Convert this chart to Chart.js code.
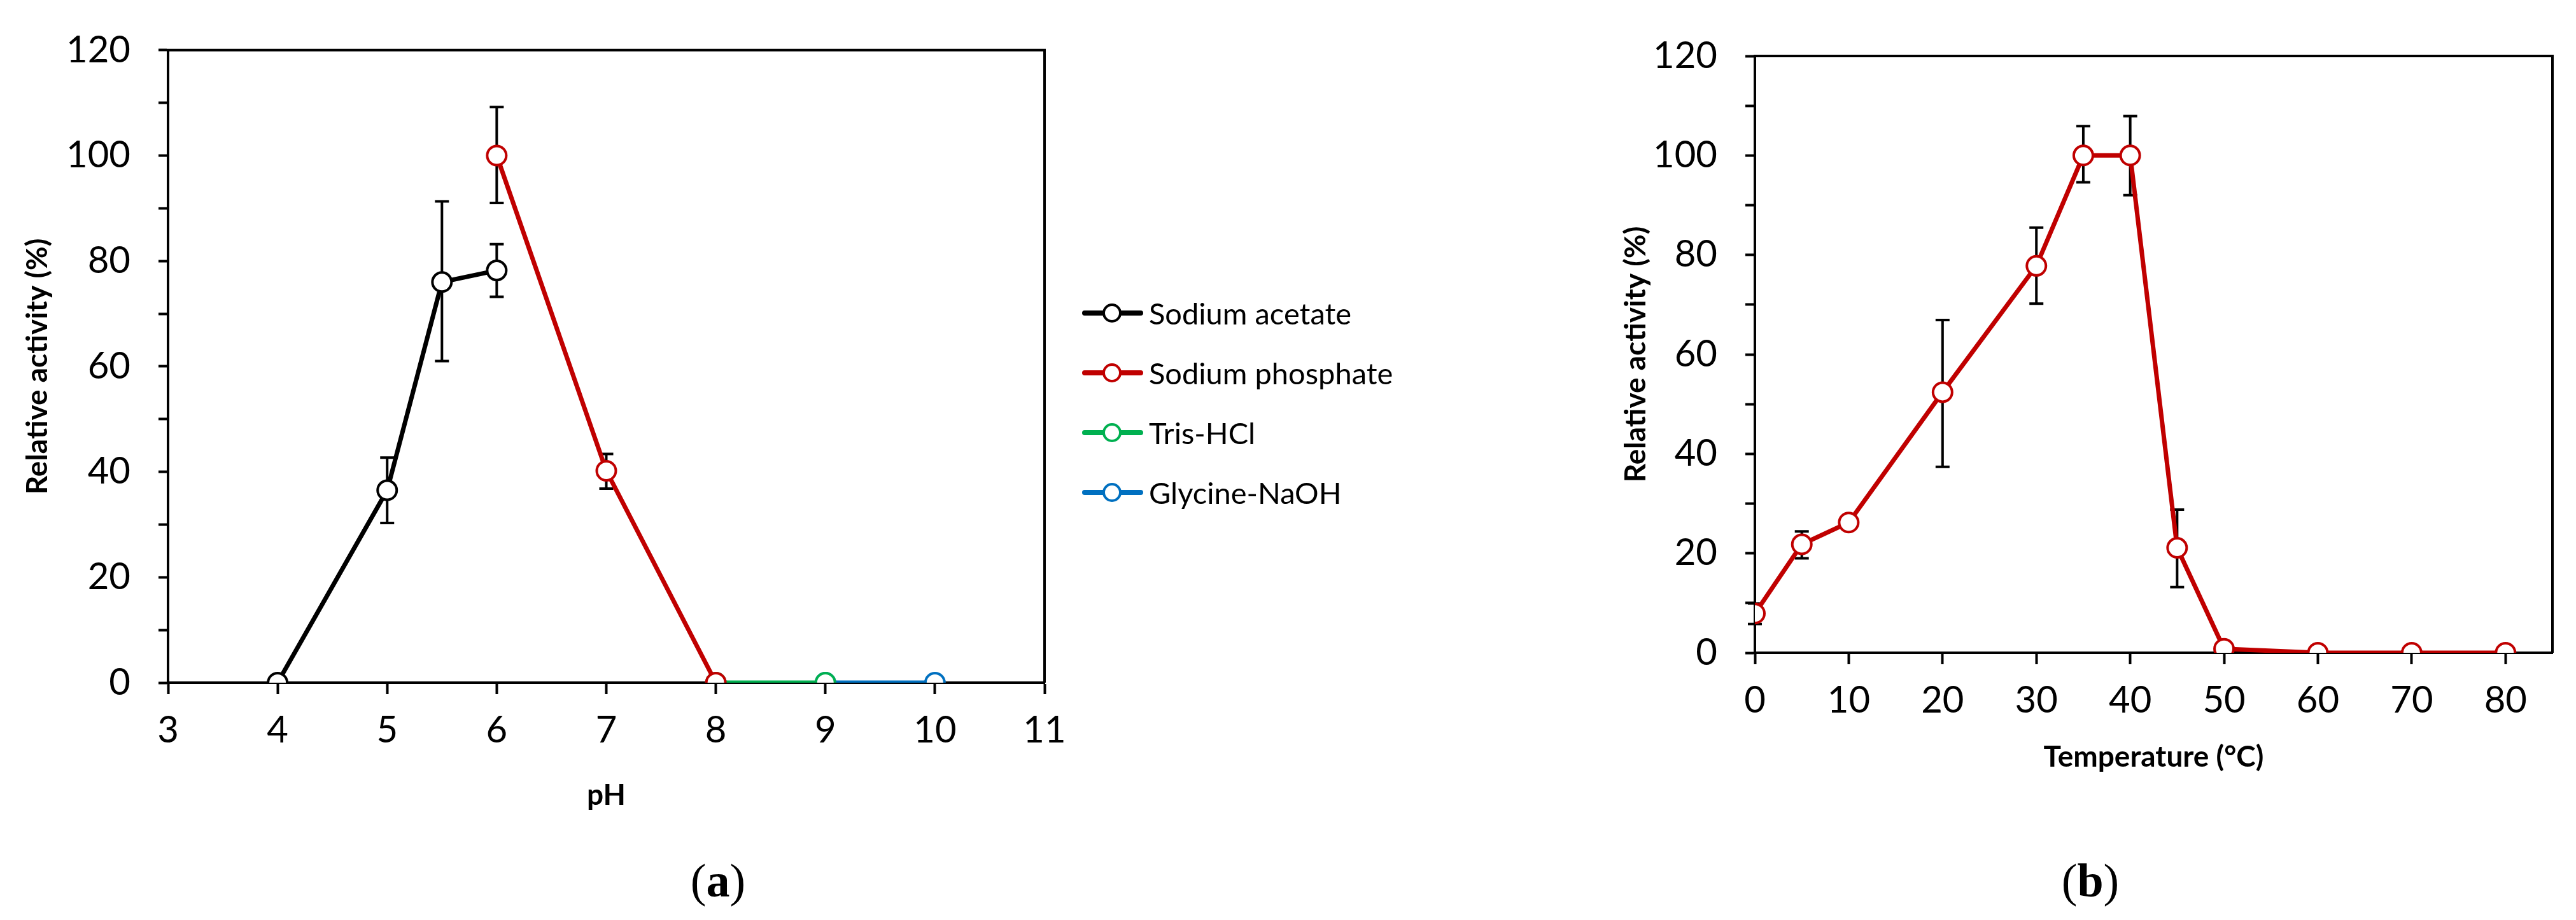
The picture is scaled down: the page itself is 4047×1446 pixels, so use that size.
<!DOCTYPE html>
<html><head><meta charset="utf-8">
<script src="https://cdn.jsdelivr.net/npm/chart.js@4/dist/chart.umd.min.js"></script>
<style>
body{margin:0;background:#fff;width:4047px;height:1446px;position:relative;overflow:hidden;font-family:Lato,sans-serif}
canvas{position:absolute;top:0}
.lg{position:absolute;left:1700px;font-size:47px;color:#000;display:flex;align-items:center;height:60px}
.lg svg{margin-right:9px}
.lab{position:absolute;font-family:"Liberation Serif",serif;font-size:74px;transform:translate(-50%,-50%)}
</style></head><body>
<canvas id="ca" width="1760" height="1446" style="left:0"></canvas>
<canvas id="cb" width="1647" height="1446" style="left:2400px"></canvas>
<div id="legend"></div>
<div class="lab" style="left:1128px;top:1384px">(<b>a</b>)</div>
<div class="lab" style="left:3284px;top:1384px">(<b>b</b>)</div>
<script>
// ---- Panel (a): pH ----
const acetatePH = [4, 5, 5.5, 6];
const acetateVal = [0, 36.5, 76, 78.2];
const acetateHi = [0, 42.7, 91.3, 83.2];
const acetateLo = [0, 30.3, 61, 73.2];
const phosphatePH = [6, 7, 8];
const phosphateVal = [100, 40.2, 0];
const phosphateHi = [109.2, 43.4, 0];
const phosphateLo = [91, 36.8, 0];
const trisPH = [8, 9];
const trisVal = [0, 0];
const glycinePH = [9, 10];
const glycineVal = [0, 0];
const seriesNames = ["Sodium acetate", "Sodium phosphate", "Tris-HCl", "Glycine-NaOH"];
const seriesColors = ["#000000", "#c00000", "#00b050", "#0070c0"];
// ---- Panel (b): temperature ----
const tempC = [0, 5, 10, 20, 30, 35, 40, 45, 50, 60, 70, 80];
const tempVal = [7.9, 21.8, 26.2, 52.4, 77.8, 100, 100, 21.1, 0.8, 0, 0, 0];
const tempHi = [9.9, 24.4, 26.2, 66.9, 85.5, 105.9, 107.9, 28.8, 0.8, 0, 0, 0];
const tempLo = [5.8, 19.0, 26.2, 37.4, 70.2, 94.6, 92.0, 13.2, 0.8, 0, 0, 0];
const tempTicks = [0, 10, 20, 30, 40, 50, 60, 70, 80];

Chart.defaults.font.family = "Lato";
Chart.defaults.color = "#000";

function pts(xs, ys){ return xs.map((x,i)=>({x:x,y:ys[i]})); }
function ds(label, xs, ys, color, hi, lo){
  return {label, data:pts(xs,ys), borderColor:color, backgroundColor:'#fff',
    borderWidth:7, pointRadius:15, pointBorderWidth:4, pointBackgroundColor:'#fff',
    pointBorderColor:color, tension:0, errHi:hi, errLo:lo};
}
const errPlugin = {
  id:'err',
  beforeDatasetsDraw(chart){
    const c = chart.ctx, xs = chart.scales.x, ys = chart.scales.y;
    c.save(); c.strokeStyle='#000'; c.lineWidth=4;
    chart.data.datasets.forEach(d=>{
      if(!d.errHi) return;
      d.data.forEach((p,i)=>{
        const hi=d.errHi[i], lo=d.errLo[i];
        if(hi-lo<0.5) return;
        const x=xs.getPixelForValue(p.x), yh=ys.getPixelForValue(hi), yl=ys.getPixelForValue(lo);
        c.beginPath(); c.moveTo(x,yh); c.lineTo(x,yl);
        c.moveTo(x-11,yh); c.lineTo(x+11,yh); c.moveTo(x-11,yl); c.lineTo(x+11,yl); c.stroke();
      });
    });
    c.restore();
  },
  afterDraw(chart){
    const a=chart.chartArea, c=chart.ctx;
    c.save(); c.strokeStyle='#000'; c.lineWidth=4;
    c.beginPath(); c.moveTo(a.left-2,a.top); c.lineTo(a.right,a.top); c.lineTo(a.right,a.bottom); c.stroke();
    c.restore();
  }
};
function opts(cfg){
  return {
    responsive:false, animation:false, devicePixelRatio:1,
    layout:{padding:{top:cfg.top,right:cfg.right,left:0,bottom:0}},
    plugins:{legend:{display:false},tooltip:{enabled:false}},
    scales:{
      x:{type:'linear', min:cfg.xmin, max:cfg.xmax,
        afterFit(s){ s.height=cfg.xh; },
        afterBuildTicks(s){ s.ticks = cfg.xticks.map(v=>({value:v})); },
        ticks:{font:{size:58}, padding:22, maxRotation:0, autoSkip:false},
        grid:{display:true, drawOnChartArea:false, color:'#000', tickLength:18, tickWidth:4},
        border:{display:true, color:'#000', width:4},
        title:{display:true, text:cfg.xtitle, font:{size:46, weight:'bold'}, padding:{top:cfg.xtp,bottom:cfg.xtp}}
      },
      y:{type:'linear', min:0, max:120,
        afterFit(s){ s.width=cfg.yw; },
        ticks:{stepSize:10, font:{size:58}, padding:44, callback:v=> (v%20===0? String(v):'')},
        grid:{display:true, drawOnChartArea:false, color:'#000', tickLength:15, tickWidth:4},
        border:{display:true, color:'#000', width:4},
        title:{display:true, text:'Relative activity (%)', font:{size:46, weight:'bold'}, padding:{top:cfg.ytp,bottom:cfg.ytp}}
      }
    }
  };
}
new Chart(document.getElementById('ca'), {
  type:'line',
  data:{datasets:[
    ds(seriesNames[0], acetatePH, acetateVal, seriesColors[0], acetateHi, acetateLo),
    ds(seriesNames[1], phosphatePH, phosphateVal, seriesColors[1], phosphateHi, phosphateLo),
    ds(seriesNames[2], trisPH, trisVal, seriesColors[2]),
    ds(seriesNames[3], glycinePH, glycineVal, seriesColors[3])
  ]},
  options:opts({top:50,right:119,xmin:3,xmax:11,xticks:[3,4,5,6,7,8,9,10,11],xh:373,yw:264,xtitle:'pH',xtp:168,ytp:32}),
  plugins:[errPlugin]
});
new Chart(document.getElementById('cb'), {
  type:'line',
  data:{datasets:[ds('Temperature', tempC, tempVal, '#c00000', tempHi, tempLo)]},
  options:opts({top:88,right:37,xmin:0,xmax:85,xticks:tempTicks,xh:420,yw:357,xtitle:'Temperature (°C)',xtp:228,ytp:143}),
  plugins:[errPlugin]
});
// legend
const lg=document.getElementById('legend');
const rows=[492,586,680,774];
seriesNames.forEach((n,i)=>{
  const d=document.createElement('div'); d.className='lg'; d.style.top=(rows[i]-30)+'px';
  d.innerHTML='<svg width="96" height="40"><line x1="4" y1="20" x2="92" y2="20" stroke="'+seriesColors[i]+'" stroke-width="8" stroke-linecap="round"/><circle cx="47" cy="20" r="13" fill="#fff" stroke="'+seriesColors[i]+'" stroke-width="4"/></svg><span>'+n+'</span>';
  lg.appendChild(d);
});
</script></body></html>
